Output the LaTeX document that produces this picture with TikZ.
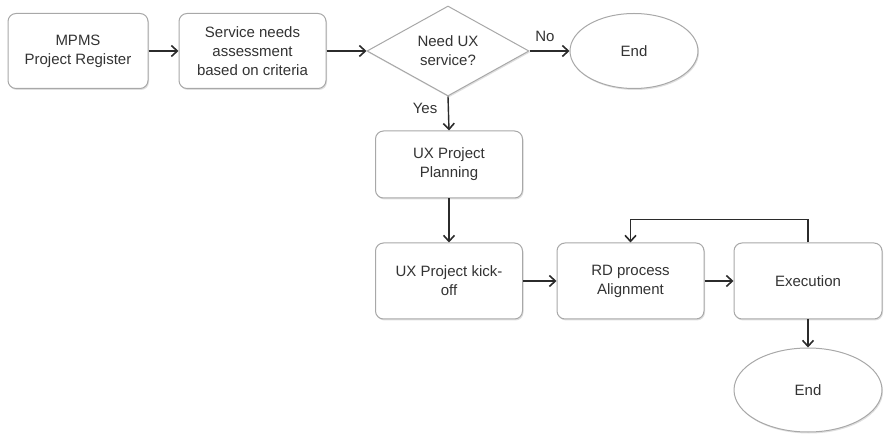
\documentclass[tikz,border=0pt]{standalone}
\usepackage{fontspec}
\setmainfont{Liberation Sans}
\usetikzlibrary{shapes.geometric,arrows.meta,shadows}
\definecolor{edge}{HTML}{A8A8A8}
\definecolor{ink}{HTML}{2B2B2B}
\definecolor{txt}{HTML}{333333}
\tikzset{
  base/.style={draw=edge, line width=1pt, fill=white, text=txt,
    font=\fontsize{15}{19}\selectfont, align=center, inner sep=0pt,
    drop shadow={opacity=0.25, shadow xshift=1pt, shadow yshift=-1.5pt}},
  procbox/.style={base, rounded corners=8pt, minimum width=147pt, minimum height=75pt},
  decision/.style={base, diamond, minimum width=162pt, minimum height=90pt},
  terminal/.style={base, ellipse},
  arr/.style={draw=ink, line width=1.4pt, -{Straight Barb[length=6pt,width=11pt,line width=1.6pt]}},
  lbl/.style={text=txt, font=\fontsize{15}{19}\selectfont, inner sep=0pt}
}
\begin{document}
\begin{tikzpicture}[x=1pt,y=-1pt]
\useasboundingbox (0,0) rectangle (886,435);

% top row
\node[procbox, minimum width=140pt] (reg) at (78,51) {MPMS\\Project Register};
\node[procbox] (assess) at (252.5,51) {Service needs\\assessment\\based on criteria};
\node[decision, label={[lbl, align=center]center:Need UX\\service?}] (need) at (448,51) {};
\node[terminal, minimum width=128pt, minimum height=75pt] (end1) at (634,51) {End};

% middle column
\node[procbox, minimum height=67pt] (plan) at (449,164.5) {UX Project\\Planning};
\node[procbox, minimum height=76pt] (kick) at (449,281) {UX Project kick-\\off};
\node[procbox, minimum height=76pt] (rd) at (630.5,281) {RD process\\Alignment};
\node[procbox, minimum width=148pt, minimum height=76pt] (exec) at (808,281) {Execution};
\node[terminal, minimum width=148pt, minimum height=84pt] (end2) at (808,390) {End};

% connectors
\draw[arr] (reg) -- (assess);
\draw[arr] (assess) -- (need.west);
\draw[arr] (need.east) -- (end1.west);
\draw[arr] (need.south) -- (plan.north);
\draw[arr] (plan) -- (kick);
\draw[arr] (kick) -- (rd);
\draw[arr] (rd) -- (exec);
\draw[arr] (exec.north) -- ([yshift=23pt]exec.north) -| (rd.north);
\draw[arr] (exec) -- (end2);

% branch labels
\node[lbl] (no) at (545,36) {No};
\node[lbl] (yes) at (425,108) {Yes};
\end{tikzpicture}
\end{document}
